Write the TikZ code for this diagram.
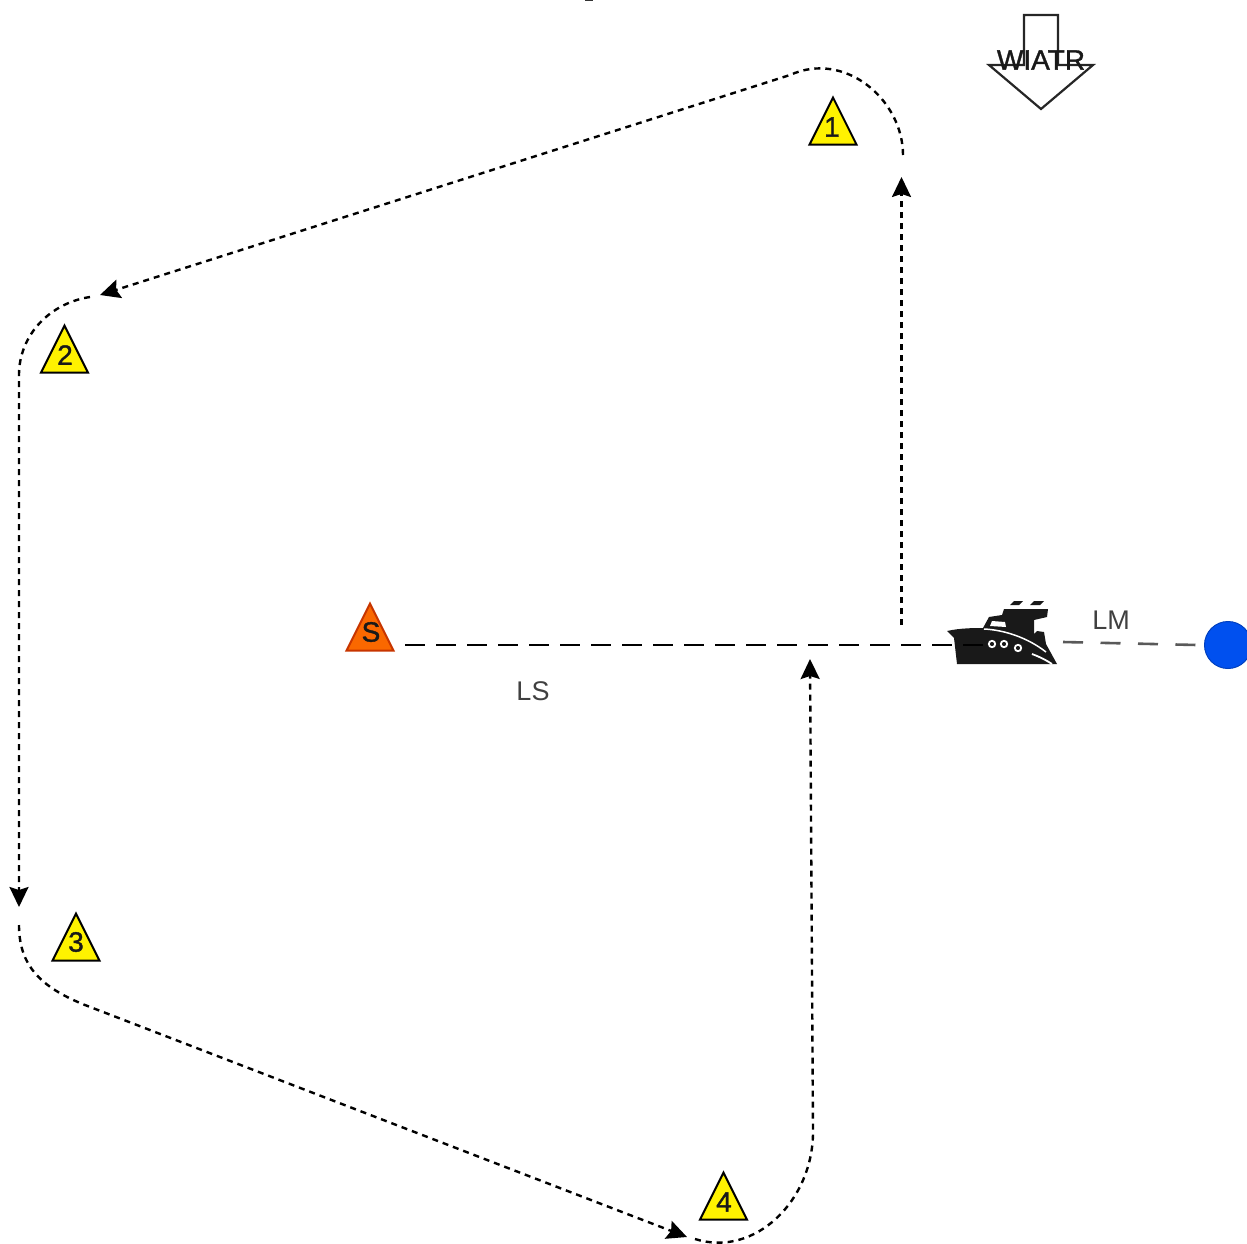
\documentclass[tikz,border=0pt]{standalone}
\usepackage{fontspec}
\setmainfont{Liberation Sans}
\newfontfamily\heavyfont[FakeBold=1.2]{Liberation Sans}
\usetikzlibrary{arrows.meta,shapes.geometric}

\begin{document}
\begin{tikzpicture}[x=1pt,y=-1pt,>={Stealth[length=20pt,width=19pt,inset=3pt]},
                    route/.style={line width=2.4pt,dash pattern=on 6pt off 5pt,draw=black},
                    buoy/.style={isosceles triangle,isosceles triangle stretches,shape border rotate=90,
                                 minimum width=47pt,minimum height=47pt,inner sep=0pt,line width=2pt,draw=black,fill=yellow},
                    buoytext/.style={font=\heavyfont\fontsize{28}{28}\selectfont,text=black!90},
                    measure/.style={line width=2.2pt,dash pattern=on 20pt off 11pt},
                    lengthtext/.style={font=\fontsize{27}{27}\selectfont,text=black!75}]
  \useasboundingbox (0,0) rectangle (1247,1244);
  \definecolor{startfill}{HTML}{FA6800}
  \definecolor{startline}{HTML}{C73500}
  \definecolor{markfill}{HTML}{0050EF}

  % buoys
  \node[buoy]                                   (B1) at (833,130)  {};
  \node[buoy]                                   (B2) at (64.5,358) {};
  \node[buoy]                                   (B3) at (76,946)   {};
  \node[buoy]                                   (B4) at (723.5,1205) {};
  \node[buoy, draw=startline, fill=startfill]   (S)  at (370,636)  {};
  \node[buoytext] (B1t) at (832,127)   {1};
  \node[buoytext] (B2t) at (65,355)    {2};
  \node[buoytext] (B3t) at (76,942)    {3};
  \node[buoytext] (B4t) at (724,1202)  {4};
  \node[buoytext] (St)  at (371,632)   {S};

  % ends of the route
  \coordinate (r1a) at (901.5,625);
  \coordinate (r1b) at (901.5,177);
  \coordinate (r2a) at (903,155);
  \coordinate (r2b) at (790,75);
  \coordinate (r2c) at (100,295);
  \coordinate (r3a) at (90,297);
  \coordinate (r3b) at (19,375);
  \coordinate (r3c) at (19,907);
  \coordinate (r4a) at (19,925);
  \coordinate (r4b) at (85,1005);
  \coordinate (r4c) at (687,1237);
  \coordinate (r5a) at (695,1239);
  \coordinate (r5b) at (813,1130);
  \coordinate (r5c) at (810,659);
  \coordinate (shipL) at (985,645);
  \coordinate (shipR) at (1063,642);
  \coordinate (startR) at (405,645);
  \coordinate (markL) at (1197,645);

  \draw[route,->] (r1a) -- (r1b);
  \draw[route,->] (r2a) .. controls (903,100) and (845,50) .. (r2b) -- (r2c);
  \draw[route,->] (r3a) .. controls (50,303) and (19,335) .. (r3b) -- (r3c);
  \draw[route,->] (r4a) .. controls (19,965) and (40,987) .. (r4b) -- (r4c);
  \draw[route,->] (r5a) .. controls (755,1258) and (814,1200) .. (r5b) -- (r5c);

  % boat
  \node[inner sep=0pt,minimum size=0pt] (Boat) at (1002,632) {};
  \fill[black!90] (947,631) .. controls (960,628) and (975,628) .. (983,628) -- (989,617) -- (1002,615) -- (1004,609)
        -- (1048,609) -- (1047,617) -- (1034,620) -- (1034,634) -- (1037,631) -- (1044,632) -- (1046,644)
        -- (1057,664) -- (957,664) -- (954,638) -- cycle;
  \fill[black!90] (1010,605) -- (1014,601) -- (1023,601) -- (1019,605) -- cycle
                  (1030,605) -- (1034,601) -- (1044,601) -- (1040,605) -- cycle;
  \fill[white] (990,626) -- (992,621) -- (1005,622) -- (1006,627) -- cycle;
  \draw[white,line width=1.5pt] (984,629) .. controls (1005,630) and (1028,638) .. (1046,652);
  \draw[white,line width=1.8pt] (1032,654) .. controls (1040,657) and (1046,660) .. (1052,664);
  \draw[white,line width=1.8pt] (992,644) circle (3.2pt) (1004,644) circle (3.2pt) (1018,648) circle (3.2pt);

  \node[circle,inner sep=0pt,minimum size=47pt,fill=markfill,draw=markfill!80!black,line width=1pt] (Mark) at (1228,645) {};

  \draw[measure,draw=black] (startR) -- (shipL);
  \draw[measure,line width=2.6pt,dash pattern=on 20pt off 17.5pt,draw=black!65] (shipR) -- (markL);

  \node[lengthtext] (LS) at (533,691) {LS};
  \node[lengthtext] (LM) at (1111,620) {LM};

  % wind
  \draw[line width=2.2pt,draw=black!85] (1024,65) -- (1024,15) -- (1058,15) -- (1058,65) -- (1093,65) -- (1041,109) -- (989,65) -- cycle;
  \node[buoytext] (Wind) at (1041,60) {WIATR};

  % cut off at the top edge
  \fill[black!80] (585,0) rectangle (593,1.5);
\end{tikzpicture}
\end{document}
